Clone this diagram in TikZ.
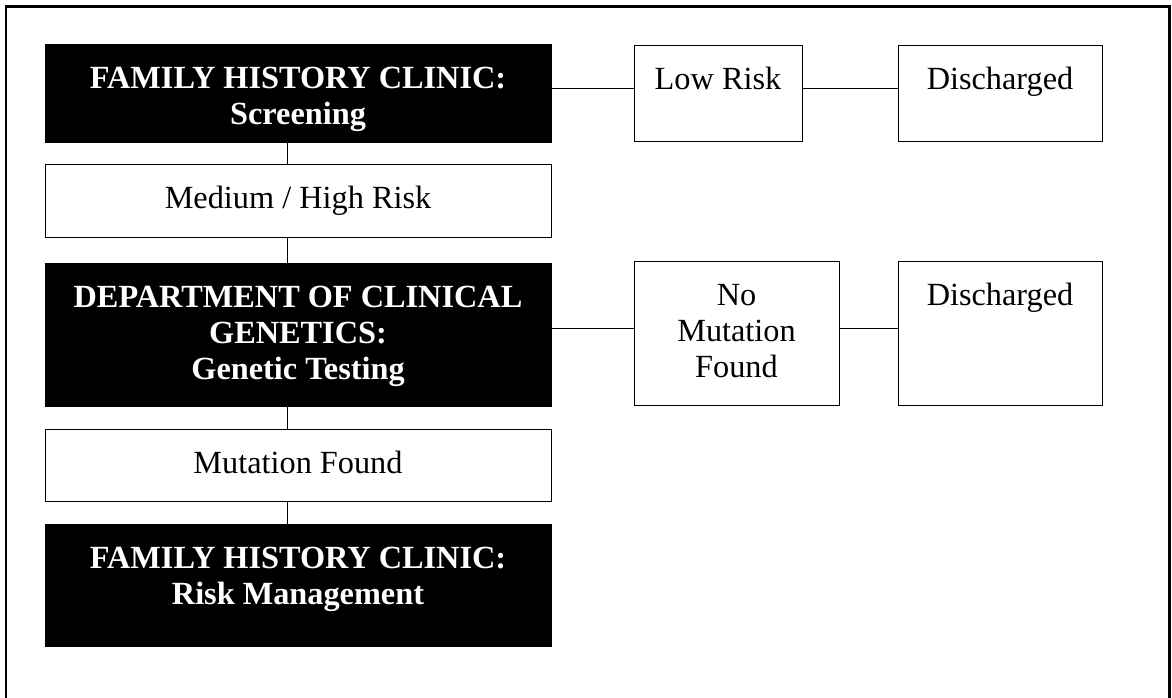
\documentclass[tikz,border=0pt]{standalone}
\usepackage{fontspec}
\setmainfont{Liberation Serif}
\begin{document}
\begin{tikzpicture}[x=1pt,y=-1pt,
  box/.style={draw=black, line width=1.2pt, fill=white, inner sep=0pt, anchor=north west},
  darkbox/.style={box, fill=black},
  txt/.style={inner sep=0pt, anchor=north, align=center, font=\fontsize{32.3pt}{36.3pt}\selectfont},
  boldtxt/.style={txt, text=white, font=\fontsize{32.3pt}{36.3pt}\selectfont\bfseries},
  link/.style={draw=black, line width=1.2pt}]
\useasboundingbox (0,0) rectangle (1172,697);
% outer frame, open at the bottom edge of the page
\draw[line width=2.3pt] (6.2,710) -- (6.2,6.5) -- (1169.5,6.5) -- (1169.5,710);

% main column
\node[darkbox, minimum width=506pt, minimum height=98pt]  (screen)   at (45,44)  {};
\node[box,     minimum width=506pt, minimum height=73pt]  (medhigh)  at (45,164) {};
\node[darkbox, minimum width=506pt, minimum height=143pt] (genetics) at (45,263) {};
\node[box,     minimum width=506pt, minimum height=72pt]  (mutfound) at (45,429) {};
\node[darkbox, minimum width=506pt, minimum height=122pt] (riskman)  at (45,524) {};

% side branches
\node[box, minimum width=168pt, minimum height=96pt]  (lowrisk) at (634,45)  {};
\node[box, minimum width=204pt, minimum height=96pt]  (disch1)  at (898,45)  {};
\node[box, minimum width=205pt, minimum height=144pt] (nomut)   at (634,261) {};
\node[box, minimum width=204pt, minimum height=144pt] (disch2)  at (898,261) {};

% labels (first baseline 44pt below the top edge of each box)
\node[boldtxt] (screenT)   at (298,64)  {\rule{0pt}{24pt}FAMILY HISTORY CLINIC:\\Screening};
\node[txt]     (medhighT)  at (298,184) {\rule{0pt}{24pt}Medium / High Risk};
\node[boldtxt] (geneticsT) at (298,283) {\rule{0pt}{24pt}DEPARTMENT OF CLINICAL\\GENETICS:\\Genetic Testing};
\node[txt]     (mutfoundT) at (298,449) {\rule{0pt}{24pt}Mutation Found};
\node[boldtxt] (riskmanT)  at (298,544) {\rule{0pt}{24pt}FAMILY HISTORY CLINIC:\\Risk Management};
\node[txt]     (lowriskT)  at (718,65)  {\rule{0pt}{24pt}Low Risk};
\node[txt]     (disch1T)   at (1000,65) {\rule{0pt}{24pt}Discharged};
\node[txt]     (nomutT)    at (736.5,281) {\rule{0pt}{24pt}No\\Mutation\\Found};
\node[txt]     (disch2T)   at (1000,281) {\rule{0pt}{24pt}Discharged};

% vertical connectors
\draw[link] ([xshift=-11pt]screen.south)   -- ([xshift=-11pt]medhigh.north);
\draw[link] ([xshift=-11pt]medhigh.south)  -- ([xshift=-11pt]genetics.north);
\draw[link] ([xshift=-11pt]genetics.south) -- ([xshift=-11pt]mutfound.north);
\draw[link] ([xshift=-11pt]mutfound.south) -- ([xshift=-11pt]riskman.north);

% horizontal connectors
\draw[link] ([yshift=5pt]screen.east)    -- ([yshift=5pt]lowrisk.west);
\draw[link] ([yshift=5pt]lowrisk.east)   -- ([yshift=5pt]disch1.west);
\draw[link] ([yshift=6.5pt]genetics.east) -- ([yshift=5pt]nomut.west);
\draw[link] ([yshift=5pt]nomut.east)     -- ([yshift=5pt]disch2.west);
\end{tikzpicture}
\end{document}
